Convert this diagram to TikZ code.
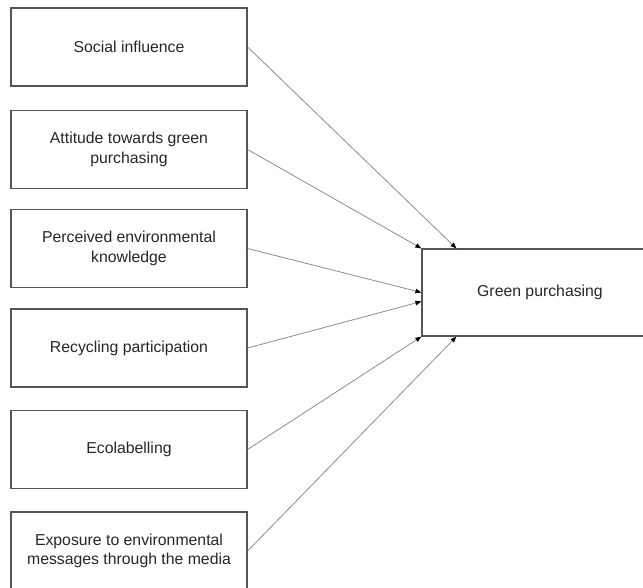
\documentclass[tikz,border=0pt]{standalone}
\usepackage{fontspec}
\setmainfont{Liberation Sans}
\usetikzlibrary{arrows.meta}
\definecolor{boxline}{RGB}{85,85,85}
\definecolor{arrline}{RGB}{140,140,140}
\begin{document}
\begin{tikzpicture}[x=1pt,y=-1pt,
  factor/.style={draw=boxline,line width=1.2pt,minimum width=236pt,minimum height=78pt,
    inner sep=0pt,align=center,font=\fontsize{15.8}{19.5}\selectfont,text=black!85},
  link/.style={draw=arrline,line width=0.8pt,-{Triangle[length=6pt,width=4.5pt,color=black]}}]
\clip (0,0) rectangle (643,587);
% antecedents
\node[factor] (soc) at (129,47) {Social influence};
\node[factor] (att) at (129,149.5) {Attitude towards green\\purchasing};
\node[factor] (know) at (129,248.5) {Perceived environmental\\knowledge};
\node[factor] (rec) at (129,348) {Recycling participation};
\node[factor] (eco) at (129,449.5) {Ecolabelling};
\node[factor] (med) at (129,551) {Exposure to environmental\\messages through the media};
% outcome
\node[factor,minimum height=87pt] (gp) at (540,292.5) {Green purchasing};
\coordinate (gpa) at ([xshift=35pt]gp.north west);
\coordinate (gpb) at ([yshift=-9pt]gp.west);
\coordinate (gpc) at ([xshift=35pt]gp.south west);
\draw[link] (soc.east) -- (gpa);
\draw[link] (att.east) -- (gp.north west);
\draw[link] (know.east) -- (gp.west);
\draw[link] (rec.east) -- (gpb);
\draw[link] (eco.east) -- (gp.south west);
\draw[link] (med.east) -- (gpc);
\end{tikzpicture}
\end{document}
